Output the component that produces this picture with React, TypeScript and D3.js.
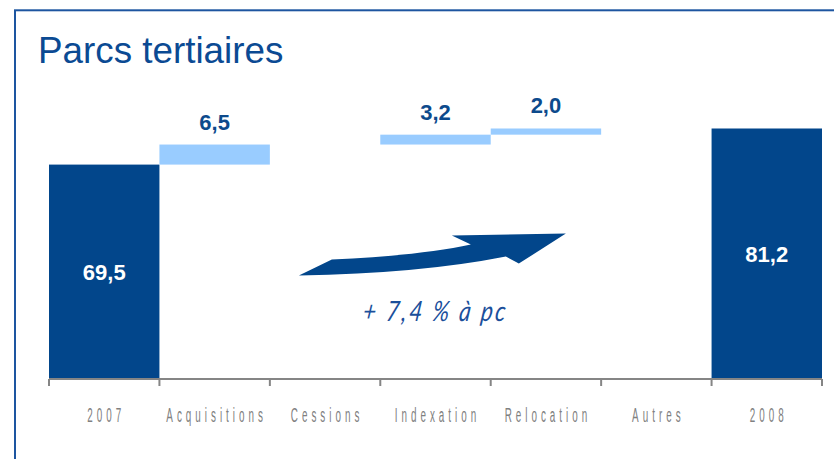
import React from "react";
import * as d3 from "d3";

const categories = ["2007", "Acquisitions", "Cessions", "Indexation", "Relocation", "Autres", "2008"];
const values = [69.5, 6.5, 0, 3.2, 2.0, 0, 81.2];
const kinds = ["total", "delta", "delta", "delta", "delta", "delta", "total"];
const title = "Parcs tertiaires";
const growthLabel = "+ 7,4 % à pc";

const W = 834;
const H = 459;
const DARK = "#02468b";
const LIGHT = "#99ccff";
const FRAME = "#1d55a0";

const frLocale = d3.formatLocale({ decimal: ",", thousands: " ", grouping: [3], currency: ["", " €"] });
const fmt = frLocale.format(".1f");

export default function App() {
  const x = d3.scaleBand<string>().domain(categories).range([49, 822]).paddingInner(0).paddingOuter(0);
  const y = d3.scaleLinear().domain([0, 100]).range([379, 379 - 308.5]);

  // cumulative waterfall
  let running = 0;
  const bars = categories.map((c, i) => {
    const v = values[i];
    let y0: number, y1: number;
    if (kinds[i] === "total") {
      y0 = 0;
      y1 = v;
      running = v;
    } else {
      y0 = running;
      y1 = running + v;
      running = y1;
    }
    return { c, v, kind: kinds[i], y0, y1 };
  });

  const bw = x.bandwidth();
  const xs = (c: string) => x(c) as number;

  // decorative arrow, anchored to the scales
  const ax = xs("Cessions");
  const ay = y(34.5);
  const p = d3.path();
  p.moveTo(ax + 29, ay + 3);
  p.lineTo(ax + 62, ay - 13);
  p.quadraticCurveTo(ax + 150, ay - 17, ax + 201, ay - 28);
  p.lineTo(ax + 182, ay - 37);
  p.lineTo(ax + 296, ay - 39);
  p.lineTo(ax + 249, ay - 9);
  p.lineTo(ax + 236, ay - 16);
  p.quadraticCurveTo(ax + 150, ay + 1, ax + 29, ay + 3);
  p.closePath();

  const labelScale = 0.47;
  const pctScale = 0.8;

  return (
    <svg width={W} height={H} style={{ position: "absolute", left: 0, top: 0, background: "#fff" }}>
      <rect x={15} y={10.3} width={900} height={600} fill="none" stroke={FRAME} strokeWidth={2} />
      <text x={38} y={63} fontFamily="Liberation Sans, Arial, sans-serif" fontSize={36.8} fill="#0b4a93">
        {title}
      </text>

      {bars.map((b) =>
        b.v === 0 ? null : (
          <rect
            key={b.c}
            x={xs(b.c)}
            width={bw}
            y={y(Math.max(b.y0, b.y1))}
            height={Math.abs(y(b.y0) - y(b.y1))}
            fill={b.kind === "total" ? DARK : LIGHT}
          />
        )
      )}

      {bars.map((b) =>
        b.v === 0 ? null : b.kind === "total" ? (
          <text
            key={"l" + b.c}
            x={xs(b.c) + bw / 2}
            y={(y(b.y0) + y(b.y1)) / 2 + 8.5}
            textAnchor="middle"
            fontFamily="Liberation Sans, Arial, sans-serif"
            fontWeight="bold"
            fontSize={22}
            fill="#ffffff"
          >
            {fmt(b.v)}
          </text>
        ) : (
          <text
            key={"l" + b.c}
            x={xs(b.c) + bw / 2}
            y={y(Math.max(b.y0, b.y1)) - 15}
            textAnchor="middle"
            fontFamily="Liberation Sans, Arial, sans-serif"
            fontWeight="bold"
            fontSize={22}
            fill="#0d4a8c"
          >
            {fmt(b.v)}
          </text>
        )
      )}

      {/* axis */}
      <line x1={49} x2={822} y1={379} y2={379} stroke="#858585" strokeWidth={2} />
      {categories.map((c) => (
        <line key={"t" + c} x1={xs(c)} x2={xs(c)} y1={379} y2={386} stroke="#858585" strokeWidth={2} />
      ))}
      <line x1={822} x2={822} y1={379} y2={386} stroke="#858585" strokeWidth={2} />
      {categories.map((c) => (
        <text
          key={"x" + c}
          transform={`translate(${xs(c) + bw / 2 + 2},422) scale(${labelScale},1)`}
          textAnchor="middle"
          fontFamily="Liberation Sans, Arial, sans-serif"
          fontSize={21}
          letterSpacing={4 / labelScale}
          fill="#808080"
        >
          {c}
        </text>
      ))}

      <path d={p.toString()} fill={DARK} />
      <text
        transform={`translate(${xs("Indexation") + bw / 2 - 1},321) skewX(-8) scale(${pctScale},1)`}
        textAnchor="middle"
        fontFamily="Lato, Liberation Sans, sans-serif"
        fontStyle="italic"
        fontWeight={400}
        fontSize={28}
        letterSpacing={2.5 / pctScale}
        fill="#1b4f9b"
      >
        {growthLabel}
      </text>
    </svg>
  );
}
